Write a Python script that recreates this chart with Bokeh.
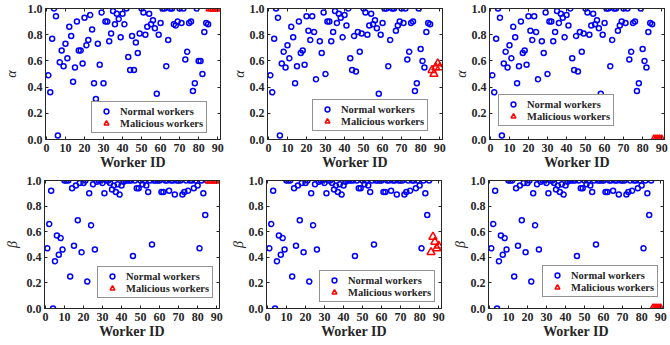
from bokeh.plotting import figure
from bokeh.layouts import column, row
from bokeh.models import Range1d, FixedTicker, LinearAxis, PrintfTickFormatter
from bokeh.embed import file_html
from bokeh.resources import INLINE

# Worker IDs: 85 normal workers followed by 5 malicious ones
worker_ids = list(range(1, 86))
malicious_ids = [86, 87, 88, 89, 90]

# Estimated alpha of the normal workers (scenario 1)
alpha_s1 = [0.49, 0.36, 0.77, 1.00, 0.94, 0.03, 0.59, 0.68, 0.56, 0.73,
            0.62, 0.86, 0.79, 0.44, 0.55, 0.90, 0.68, 0.68, 0.58, 0.93,
            0.72, 0.76, 0.95, 0.84, 0.43, 0.31, 0.73, 0.57, 0.97, 0.43,
            0.90, 0.90, 0.75, 0.81, 0.98, 0.88, 0.96, 0.92, 0.78, 0.96,
            0.88, 1.00, 0.63, 0.53, 0.79, 0.53, 0.74, 0.66, 0.81, 1.00,
            0.97, 0.80, 0.86, 0.96, 0.88, 0.91, 0.85, 0.35, 0.80, 0.89,
            1.00, 1.00, 0.56, 0.76, 1.00, 1.00, 0.88, 0.87, 0.90, 1.00,
            0.89, 1.00, 0.61, 0.67, 0.89, 0.90, 0.37, 0.43, 1.00, 0.60,
            0.60, 0.50, 0.82, 0.89, 0.88]

# Estimated alpha of the normal workers (scenarios 2 and 3)
alpha_s2 = [0.49, 0.36, 0.77, 1.00, 0.93, 0.03, 0.58, 0.67, 0.55, 0.72,
            0.62, 0.86, 0.78, 0.43, 0.56, 0.90, 0.66, 0.68, 0.57, 0.94,
            0.83, 0.76, 0.94, 0.82, 0.46, 0.27, 0.75, 0.66, 0.97, 0.50,
            0.90, 0.90, 0.75, 0.82, 0.98, 0.89, 0.96, 0.93, 0.78, 0.95,
            0.87, 1.00, 0.62, 0.53, 0.79, 0.52, 0.82, 0.67, 0.81, 1.00,
            0.97, 0.80, 0.87, 0.96, 0.88, 0.91, 0.85, 0.35, 0.80, 0.89,
            1.00, 1.00, 0.56, 0.76, 1.00, 1.00, 0.83, 0.87, 0.90, 1.00,
            0.89, 1.00, 0.61, 0.67, 0.89, 0.90, 0.37, 0.43, 1.00, 0.69,
            0.60, 0.55, 0.82, 0.89, 0.88]

# Estimated beta of the normal workers (all scenarios)
beta_all = [0.47, 0.66, 0.92, 0.00, 0.37, 0.57, 0.42, 0.55, 0.46, 1.00,
            1.00, 1.00, 0.25, 0.94, 0.49, 0.96, 0.69, 0.98, 0.44, 0.98,
            1.00, 0.21, 0.90, 0.65, 0.97, 0.46, 0.99, 1.00, 1.00, 0.98,
            0.90, 1.00, 1.00, 0.98, 0.93, 0.96, 0.91, 0.97, 0.89, 0.96,
            0.99, 1.00, 1.00, 1.00, 1.00, 0.41, 1.00, 0.94, 0.94, 1.00,
            0.97, 1.00, 0.96, 0.91, 1.00, 0.50, 1.00, 1.00, 1.00, 1.00,
            0.91, 0.91, 1.00, 1.00, 0.92, 1.00, 1.00, 0.89, 1.00, 1.00,
            1.00, 0.89, 0.91, 1.00, 0.92, 1.00, 1.00, 0.94, 1.00, 0.96,
            0.47, 1.00, 0.90, 0.73, 1.00]

# Malicious workers in the three scenarios
mal_alpha_s1 = [1.00, 1.00, 1.00, 1.00, 1.00]
mal_alpha_s2 = [0.53, 0.50, 0.55, 0.58, 0.55]
mal_alpha_s3 = [0.00, 0.00, 0.00, 0.00, 0.00]
mal_beta_s1 = [1.00, 1.00, 1.00, 1.00, 1.00]
mal_beta_s2 = [0.44, 0.56, 0.52, 0.47, 0.49]
mal_beta_s3 = [0.00, 0.00, 0.00, 0.00, 0.00]

x_ticks = [0, 10, 20, 30, 40, 50, 60, 70, 80, 90]
y_ticks = [0.0, 0.2, 0.4, 0.6, 0.8, 1.0]

FONT = "Liberation Serif"
INK = "#262626"


def style_axis(ax, ticks, show_labels):
    ax.ticker = FixedTicker(ticks=ticks)
    ax.axis_line_color = INK
    ax.axis_line_width = 1
    ax.major_tick_line_color = INK
    ax.major_tick_in = 3
    ax.major_tick_out = 0
    ax.minor_tick_line_color = None
    if show_labels:
        ax.major_label_text_font = FONT
        ax.major_label_text_font_style = "bold"
        ax.major_label_text_font_size = "12px"
        ax.major_label_text_color = INK
        ax.major_label_standoff = 4
    else:
        # mirrored box axis: tick marks only, no labels drawn
        ax.major_label_text_color = None
        ax.major_label_text_font_size = "0px"
        ax.major_label_standoff = 0


def panel(normal, malicious, ylab, borders, frame_h, ylab_gap, legend_xy):
    left, right, top, bottom = borders
    p = figure(frame_width=175, frame_height=frame_h,
               min_border_left=left, min_border_right=right,
               min_border_top=top, min_border_bottom=bottom,
               x_range=Range1d(-0.5, 91.5), y_range=Range1d(0, 1),
               output_backend="svg", toolbar_location=None, tools="")
    p.background_fill_color = "white"
    p.border_fill_color = "white"
    p.outline_line_color = INK
    p.outline_line_width = 1
    p.xgrid.visible = False
    p.ygrid.visible = False

    p.add_layout(LinearAxis(), "above")
    p.add_layout(LinearAxis(), "right")
    for ax in p.xaxis:
        style_axis(ax, x_ticks, ax is p.below[0])
    for ax in p.yaxis:
        style_axis(ax, y_ticks, ax is p.left[0])

    xa = p.below[0]
    xa.axis_label = "Worker ID"
    xa.axis_label_text_font = FONT
    xa.axis_label_text_font_style = "bold"
    xa.axis_label_text_font_size = "14px"
    xa.axis_label_text_color = INK
    xa.axis_label_standoff = 0

    ya = p.left[0]
    ya.formatter = PrintfTickFormatter(format="%.1f")
    ya.axis_label = ylab
    ya.axis_label_text_font = FONT
    ya.axis_label_text_font_style = "italic"
    ya.axis_label_text_font_size = "14px"
    ya.axis_label_text_color = INK
    ya.axis_label_standoff = ylab_gap
    ya.major_label_standoff = 3

    p.scatter(worker_ids, normal, marker="circle", size=5,
              fill_color=None, line_color="#0000FF", line_width=1.5,
              legend_label="Normal workers")
    p.scatter(malicious_ids, malicious, marker="triangle", size=8,
              fill_color=None, line_color="#FF0000", line_width=1.5,
              legend_label="Malicious workers")

    lg = p.legend[0]
    lg.location = legend_xy
    lg.margin = 0
    lg.padding = 3
    lg.spacing = 0
    lg.glyph_width = 22
    lg.glyph_height = 12
    lg.label_height = 12
    lg.label_standoff = 3
    lg.label_text_font = FONT
    lg.label_text_font_style = "bold"
    lg.label_text_font_size = "10.5px"
    lg.label_text_color = INK
    lg.border_line_color = INK
    lg.border_line_width = 1
    lg.background_fill_color = "white"
    lg.background_fill_alpha = 1.0
    return p


p1 = panel(alpha_s1, mal_alpha_s1, "α", (43, 8, 8, 34), 131, 6, (46, 6))
p2 = panel(alpha_s2, mal_alpha_s2, "α", (34, 8, 8, 34), 131, 0, (45, 8))
p3 = panel(alpha_s2, mal_alpha_s3, "α", (31, 21, 8, 34), 131, 0, (9, 13))
p4 = panel(beta_all, mal_beta_s1, "β", (44, 8, 7, 37), 128, 4, (53, 10))
p5 = panel(beta_all, mal_beta_s2, "β", (34, 8, 7, 37), 128, 0, (53, 6))
p6 = panel(beta_all, mal_beta_s3, "β", (32, 19, 7, 37), 128, 0, (54, 11))

layout = column(row(p1, p2, p3), row(p4, p5, p6))

with open("out.html", "w") as f:
    f.write(file_html(layout, INLINE))
